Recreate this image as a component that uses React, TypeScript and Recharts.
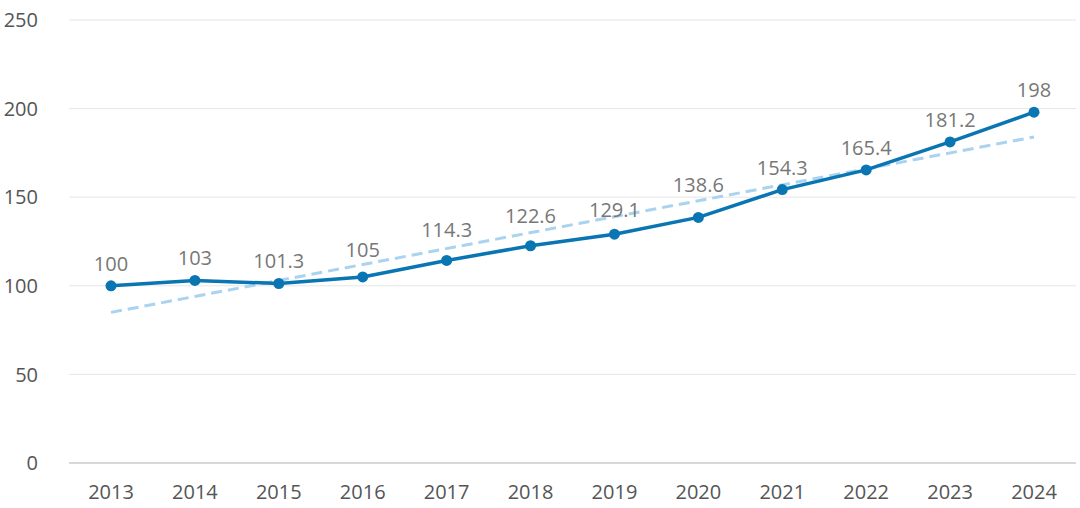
import React from "react";
import { LineChart, Line, XAxis, YAxis, CartesianGrid } from "recharts";

const years = ["2013", "2014", "2015", "2016", "2017", "2018", "2019", "2020", "2021", "2022", "2023", "2024"];
const values = [100, 103, 101.3, 105, 114.3, 122.6, 129.1, 138.6, 154.3, 165.4, 181.2, 198];
const trend: (number | null)[] = [85, null, null, null, null, null, null, null, null, null, null, 184];
const yTicks = [0, 50, 100, 150, 200, 250];
// extra lift (px) applied to value labels that would otherwise collide with the trend line
const labelLift = [0, 0, 0, 4.5, 8, 8, 2.5, 10.5, 0, 0, 0, 0];

const data = years.map((year, i) => ({ year, value: values[i], trend: trend[i] }));

const FONT = "'Open Sans', sans-serif";
const MAIN = "#0a75b3";

const renderDot = (props: any) => {
  const { cx, cy, index, payload } = props;
  if (cx == null || cy == null) return <g key={`d-${index}`} />;
  return (
    <g key={`d-${index}`}>
      <circle cx={cx} cy={cy} r={5.5} fill={MAIN} />
      <text
        x={cx}
        y={cy - 15 - (labelLift[index] || 0)}
        textAnchor="middle"
        fill="#777"
        fontSize={20}
        fontFamily={FONT}
      >
        {payload.value}
      </text>
    </g>
  );
};

export default function App() {
  return (
    <div style={{ position: "absolute", left: 0, top: 0, width: 1080, height: 508, background: "#fff" }}>
      <LineChart width={1080} height={508} data={data} margin={{ top: 20, right: 4, bottom: 0, left: 0 }}>
        <CartesianGrid vertical={false} stroke="#e6e6e6" strokeWidth={1} />
        <XAxis
          dataKey="year"
          padding={{ left: 42, right: 42 }}
          axisLine={{ stroke: "#bdbdbd", strokeWidth: 1 }}
          tickLine={false}
          tickSize={0}
          tickMargin={22}
          height={45}
          tick={{ fill: "#555", fontSize: 20, fontFamily: FONT }}
        />
        <YAxis
          domain={[0, 250]}
          ticks={yTicks}
          axisLine={false}
          tickLine={false}
          tickSize={0}
          tickMargin={31}
          width={69}
          tick={{ fill: "#555", fontSize: 20, fontFamily: FONT }}
        />
        <Line
          dataKey="trend"
          connectNulls
          stroke="#a9d3ef"
          strokeWidth={3}
          strokeDasharray="11 6"
          dot={false}
          activeDot={false}
          isAnimationActive={false}
        />
        <Line
          dataKey="value"
          stroke={MAIN}
          strokeWidth={3.5}
          dot={renderDot}
          activeDot={false}
          isAnimationActive={false}
        />
      </LineChart>
    </div>
  );
}
